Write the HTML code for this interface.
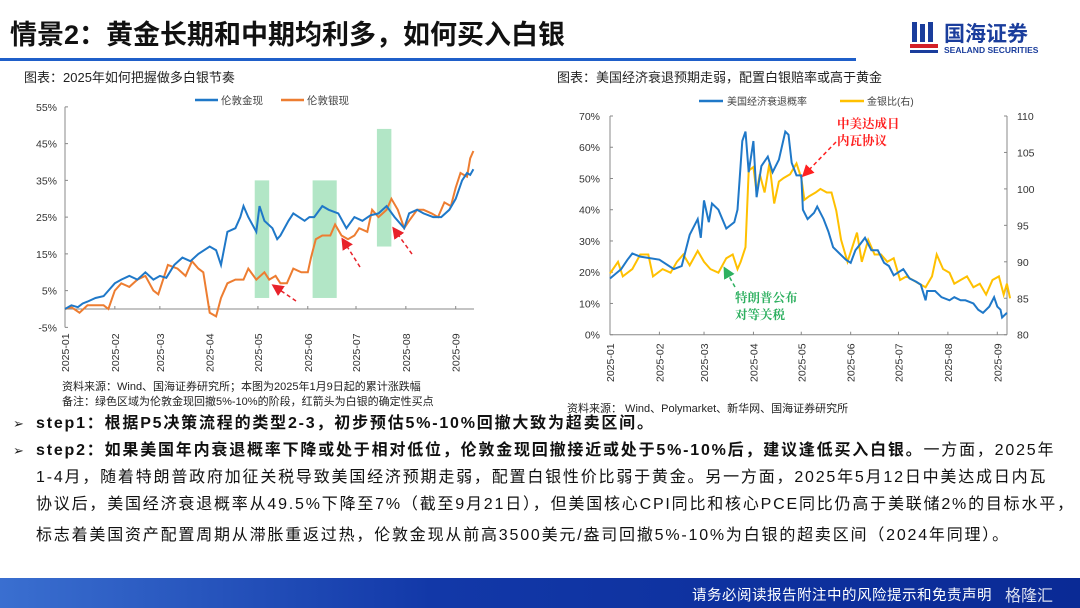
<!DOCTYPE html>
<html><head><meta charset="utf-8">
<style>
body{margin:0;width:1080px;height:608px;overflow:hidden;background:#fff;font-family:"Liberation Sans","Noto Sans CJK SC",sans-serif;position:relative}
.abs{position:absolute;white-space:nowrap}
.ln{position:absolute;left:36px;font-size:16px;color:#111;white-space:nowrap;line-height:20px;letter-spacing:1.8px}
.bul{position:absolute;left:13px;font-size:13px;color:#222}
</style></head><body>
<div class="abs" style="left:10px;top:13px;font-size:27px;font-weight:bold;color:#111">情景2：黄金长期和中期均利多，如何买入白银</div>
<div class="abs" style="left:0;top:58px;width:856px;height:3px;background:#1f5fc9"></div>
<div class="abs" style="left:910px;top:18px;width:150px;height:42px">
 <svg width="30" height="36" style="position:absolute;left:0;top:2px"><rect x="2" y="2" width="5" height="20" fill="#1a3d9c"/><rect x="10" y="4" width="5" height="18" fill="#1a3d9c"/><rect x="18" y="2" width="5" height="20" fill="#1a3d9c"/><rect x="0" y="24" width="28" height="4" fill="#d42027"/><rect x="0" y="30" width="28" height="3" fill="#1a3d9c"/></svg>
 <div class="abs" style="left:34px;top:0;font-size:21px;font-weight:bold;color:#1a3d9c">国海证券</div>
 <div class="abs" style="left:34px;top:27px;font-size:8.5px;font-weight:bold;color:#1a3d9c">SEALAND SECURITIES</div>
</div>

<div class="abs" style="left:24px;top:67px;font-size:13px;color:#222">图表：2025年如何把握做多白银节奏</div>
<div class="abs" style="left:557px;top:67px;font-size:13px;color:#222">图表：美国经济衰退预期走弱，配置白银赔率或高于黄金</div>

<svg id="left" class="abs" style="left:0;top:0" width="540" height="410"></svg>
<svg id="right" class="abs" style="left:540px;top:0" width="540" height="420"></svg>

<div class="abs" style="left:62px;top:380px;font-size:11px;color:#222;line-height:15px">资料来源：Wind、国海证券研究所；本图为2025年1月9日起的累计涨跌幅<br>备注：绿色区域为伦敦金现回撤5%-10%的阶段，红箭头为白银的确定性买点</div>
<div class="abs" style="left:567px;top:400px;font-size:11px;color:#222">资料来源：&nbsp;Wind、Polymarket、新华网、国海证券研究所</div>

<div class="bul" style="top:416px">➢</div>
<div class="ln" style="top:414px;font-weight:bold">step1：根据P5决策流程的类型2-3，初步预估5%-10%回撤大致为超卖区间。</div>
<div class="bul" style="top:443px">➢</div>
<div class="ln" style="top:441px"><b>step2：如果美国年内衰退概率下降或处于相对低位，伦敦金现回撤接近或处于5%-10%后，建议逢低买入白银。</b>一方面，2025年</div>
<div class="ln" style="top:468px">1-4月，随着特朗普政府加征关税导致美国经济预期走弱，配置白银性价比弱于黄金。另一方面，2025年5月12日中美达成日内瓦</div>
<div class="ln" style="top:495px">协议后，美国经济衰退概率从49.5%下降至7%（截至9月21日），但美国核心CPI同比和核心PCE同比仍高于美联储2%的目标水平，</div>
<div class="ln" style="top:526px">标志着美国资产配置周期从滞胀重返过热，伦敦金现从前高3500美元/盎司回撤5%-10%为白银的超卖区间（2024年同理）。</div>

<div class="abs" style="left:0;top:578px;width:1080px;height:30px;background:linear-gradient(90deg,#3a6fd0,#1238a8 40%,#0a2a95)"></div>
<div class="abs" style="left:692px;top:584px;font-size:14.5px;color:#fff;letter-spacing:0.5px">请务必阅读报告附注中的风险提示和免责声明</div>
<div class="abs" style="left:1005px;top:582px;font-size:16px;color:#fff;opacity:.85">格隆汇</div>

<script>
const NS="http://www.w3.org/2000/svg";
const MS=[0,31,59,90,120,151,181,212,243];
function doy(s){const [m,d]=s.split("-").map(Number);return MS[m-1]+d-1;}
function mk(p,t,a){const e=document.createElementNS(NS,t);for(const k in a)e.setAttribute(k,a[k]);p.appendChild(e);return e;}

/* ---------- LEFT CHART DATA ---------- */
const monthLabels=["2025-01","2025-02","2025-03","2025-04","2025-05","2025-06","2025-07","2025-08","2025-09"];
const leftYTicks=[-5,5,15,25,35,45,55];
const goldDates=["01-01","01-05","01-09","01-12","01-15","01-20","01-25","01-28","02-01","02-05","02-10","02-15","02-20","02-25","03-01","03-05","03-10","03-15","03-20","03-25","04-01","04-05","04-08","04-12","04-17","04-20","04-22","04-25","04-30","05-02","05-05","05-10","05-13","05-15","05-20","05-23","05-30","06-02","06-05","06-10","06-14","06-20","06-25","06-30","07-05","07-10","07-15","07-20","07-25","07-31","08-03","08-08","08-12","08-18","08-23","08-28","09-01","09-05","09-08","09-10","09-12"];
const goldVals=[0,1,0.5,1.5,2,3,3.5,5,7,8,9,8,10,8,9,8.5,12,14,13,15,17,16,12,21,22,25,28,25,21,28,24,22,19,20,24,26,24,25,25,28,27,26,22,25,24,25.5,26,28,25,22,26,27,26,25,25,27,30,35,37,36.5,38];
const silverDates=["01-01","01-05","01-10","01-15","01-20","01-25","01-28","02-01","02-05","02-10","02-15","02-20","02-25","02-28","03-03","03-06","03-12","03-17","03-21","03-25","03-28","04-01","04-05","04-08","04-12","04-17","04-22","04-25","04-30","05-05","05-08","05-12","05-15","05-19","05-23","05-28","06-01","06-03","06-06","06-10","06-15","06-18","06-22","06-26","06-30","07-03","07-08","07-11","07-15","07-20","07-23","07-27","07-31","08-03","08-08","08-12","08-17","08-21","08-25","08-29","09-01","09-04","09-08","09-10","09-12"];
const silverVals=[0,0.5,-1,1,1,1,0,5,7,6,8,9,5,4,8,12,11,9,13,11,10,-1,-2,3,7,8,8,11,8,10,8,9,7,7,11,10,10,14,19,20,20,23,20,19,20,22,21,27,25,27,30,27,22,24,27,27,26,25,29,28,33,37,36,41,43];
const bandStart=["04-29","06-04","07-14"];
const bandEnd=["05-08","06-19","07-23"];
const bandLow=[3,3,17];
const bandHigh=[35,35,49];

(function(){
 const svg=document.getElementById("left");
 const x0=65,pxd=(455.7-65)/243;
 const X=d=>x0+doy(d)*pxd;
 const Y=v=>309-v*3.675;
 for(let i=0;i<bandStart.length;i++){
  const r=mk(svg,"rect",{x:X(bandStart[i]),y:Y(bandHigh[i]),width:X(bandEnd[i])-X(bandStart[i]),height:Y(bandLow[i])-Y(bandHigh[i]),fill:"#7fd6a0","fill-opacity":0.6});
  
  
 }
 mk(svg,"line",{x1:x0,y1:Y(55),x2:x0,y2:Y(-5),stroke:"#888"});
 mk(svg,"line",{x1:x0,y1:Y(0),x2:474,y2:Y(0),stroke:"#888"});
 leftYTicks.forEach(v=>{
  mk(svg,"line",{x1:x0,y1:Y(v),x2:x0+3,y2:Y(v),stroke:"#888"});
  const t=mk(svg,"text",{x:x0-8,y:Y(v)+4,"text-anchor":"end","font-size":"10.5",fill:"#333"});t.textContent=v+"%";
  
  
 });
 monthLabels.forEach((m,i)=>{
  const x=x0+MS[i]*pxd;
  mk(svg,"line",{x1:x,y1:Y(0),x2:x,y2:Y(0)-3,stroke:"#888"});
  const t=mk(svg,"text",{transform:`translate(${x+4},${372}) rotate(-90)`,"font-size":"10.5",fill:"#333"});t.textContent=m;
  
  
 });
 const pts=(ds,vs)=>ds.map((d,i)=>X(d).toFixed(1)+","+Y(vs[i]).toFixed(1)).join(" ");
 const s=mk(svg,"polyline",{points:pts(silverDates,silverVals),fill:"none",stroke:"#ed7d31","stroke-width":2});
 
 
 const g=mk(svg,"polyline",{points:pts(goldDates,goldVals),fill:"none",stroke:"#1f78c8","stroke-width":2});
 
 
 mk(svg,"line",{x1:195,y1:100,x2:218,y2:100,stroke:"#1f78c8","stroke-width":2.5});
 let t=mk(svg,"text",{x:221,y:104,"font-size":"10.5",fill:"#444"});t.textContent="伦敦金现";
 
 mk(svg,"line",{x1:281,y1:100,x2:304,y2:100,stroke:"#ed7d31","stroke-width":2.5});
 t=mk(svg,"text",{x:307,y:104,"font-size":"10.5",fill:"#444"});t.textContent="伦敦银现";
 
 const defs=mk(svg,"defs",{});
 const mkr=mk(defs,"marker",{id:"ah",markerWidth:8,markerHeight:8,refX:6,refY:4,orient:"auto"});
 mk(mkr,"path",{d:"M0,0 L8,4 L0,8 z",fill:"#e8222a"});
 [[296,301,274,286],[360,267,343,240],[412,254,394,229]].forEach(a=>{
  const l=mk(svg,"line",{x1:a[0],y1:a[1],x2:a[2],y2:a[3],stroke:"#e8222a","stroke-width":1.5,"stroke-dasharray":"4,3","marker-end":"url(#ah)"});
  
  
 });
})();

/* ---------- RIGHT CHART DATA ---------- */
const leftTicksR=[0,10,20,30,40,50,60,70];
const rightTicksR=[80,85,90,95,100,105,110];
const recDates=["01-01","01-08","01-12","01-15","01-20","02-01","02-10","02-15","02-20","02-25","02-27","03-01","03-04","03-06","03-10","03-15","03-20","03-22","03-25","03-27","03-29","04-01","04-03","04-06","04-10","04-13","04-17","04-21","04-23","04-25","04-28","05-01","05-02","05-05","05-09","05-11","05-15","05-18","05-21","05-25","05-29","06-01","06-04","06-07","06-10","06-14","06-18","06-22","06-25","06-28","07-04","07-08","07-12","07-15","07-18","07-19","07-24","07-28","08-02","08-05","08-09","08-12","08-17","08-20","08-23","08-27","08-30","09-01","09-03","09-04","09-07"];
const recVals=[18,21,24,26,25,24,21,22,32,37,31,43,36,42,40,34,36,40,62,65,52,62,44,54,57,52,56,65,64,55,51,51,40,37,39,41,37,33,28,26,24,23,27,29,31,27,27,23,22,19,21,18,17,16,11,14,14,12,11,12,11,11,10,8,7,9,12,9,8,5.5,7];
const ratioDates=["01-01","01-06","01-09","01-15","01-20","01-25","01-28","02-03","02-08","02-12","02-16","02-20","02-25","03-01","03-05","03-10","03-15","03-19","03-22","03-24","03-27","03-29","04-01","04-03","04-05","04-08","04-11","04-14","04-17","04-20","04-24","04-28","05-01","05-03","05-06","05-10","05-13","05-17","05-20","05-23","05-26","05-30","06-02","06-05","06-08","06-12","06-16","06-20","06-24","06-28","07-02","07-06","07-10","07-14","07-18","07-22","07-25","07-29","08-02","08-05","08-09","08-13","08-17","08-21","08-25","08-29","09-02","09-05","09-07","09-09"];
const ratioVals=[88.4,90,88,89,91,91,88,89,88.5,90,91,89.5,91.5,90,89,88.5,90.5,91,89,90,92,102.5,103,99.5,102,99.5,103.5,98,101,101.5,102,103.5,101.5,98.5,99,99.5,100,99.5,99.5,97,93,90,92,94,90,93,91,91,90,90.5,87.5,88,87.5,87,86.5,88,91,89,88.5,87,87.5,88,86.5,87,85.5,87.5,88,85.5,87,85];

(function(){
 const svg=document.getElementById("right");
 const ox=-540;
 const x0=610+ox,pxd=(997.3-610)/243;
 const X=d=>x0+doy(d)*pxd;
 const Y=v=>334.7-v*(218.7/70);
 const Y2=v=>334.7-(v-80)*(218.7/30);
 const xr=1007+ox;
 mk(svg,"line",{x1:x0,y1:Y(70),x2:x0,y2:Y(0),stroke:"#888"});
 mk(svg,"line",{x1:xr,y1:Y(70),x2:xr,y2:Y(0),stroke:"#888"});
 mk(svg,"line",{x1:x0,y1:Y(0),x2:xr,y2:Y(0),stroke:"#888"});
 leftTicksR.forEach(v=>{
  mk(svg,"line",{x1:x0,y1:Y(v),x2:x0+3,y2:Y(v),stroke:"#888"});
  const t=mk(svg,"text",{x:x0-10,y:Y(v)+4,"text-anchor":"end","font-size":"10.5",fill:"#333"});t.textContent=v+"%";
  
  
 });
 rightTicksR.forEach(v=>{
  mk(svg,"line",{x1:xr,y1:Y2(v),x2:xr-3,y2:Y2(v),stroke:"#888"});
  const t=mk(svg,"text",{x:xr+10,y:Y2(v)+4,"font-size":"10.5",fill:"#333"});t.textContent=v;
  
  
 });
 monthLabels.forEach((m,i)=>{
  const x=x0+MS[i]*pxd;
  mk(svg,"line",{x1:x,y1:Y(0),x2:x,y2:Y(0)-3,stroke:"#888"});
  const t=mk(svg,"text",{transform:`translate(${x+4},${382}) rotate(-90)`,"font-size":"10.5",fill:"#333"});t.textContent=m;
  
  
 });
 const r=mk(svg,"polyline",{points:ratioDates.map((d,i)=>X(d).toFixed(1)+","+Y2(ratioVals[i]).toFixed(1)).join(" "),fill:"none",stroke:"#ffc000","stroke-width":2});
 
 
 const b=mk(svg,"polyline",{points:recDates.map((d,i)=>X(d).toFixed(1)+","+Y(recVals[i]).toFixed(1)).join(" "),fill:"none",stroke:"#1f78c8","stroke-width":2});
 
 
 mk(svg,"line",{x1:699+ox,y1:101,x2:723+ox,y2:101,stroke:"#1f78c8","stroke-width":2.5});
 let t=mk(svg,"text",{x:727+ox,y:105,"font-size":"10",fill:"#444"});t.textContent="美国经济衰退概率";
 
 mk(svg,"line",{x1:840+ox,y1:101,x2:864+ox,y2:101,stroke:"#ffc000","stroke-width":2.5});
 t=mk(svg,"text",{x:867+ox,y:105,"font-size":"10",fill:"#444"});t.textContent="金银比(右)";
 
 const defs=mk(svg,"defs",{});
 const m1=mk(defs,"marker",{id:"ar",markerWidth:8,markerHeight:8,refX:6,refY:4,orient:"auto"});
 mk(m1,"path",{d:"M0,0 L8,4 L0,8 z",fill:"#ff2020"});
 const m2=mk(defs,"marker",{id:"ag",markerWidth:8,markerHeight:8,refX:6,refY:4,orient:"auto"});
 mk(m2,"path",{d:"M0,0 L8,4 L0,8 z",fill:"#2eb060"});
 let a=mk(svg,"line",{x1:836+ox,y1:142,x2:804+ox,y2:175,stroke:"#ff2020","stroke-width":1.5,"stroke-dasharray":"4,3","marker-end":"url(#ar)"});
 
 a=mk(svg,"line",{x1:735+ox,y1:287,x2:725+ox,y2:269,stroke:"#2eb060","stroke-width":1.5,"stroke-dasharray":"4,3","marker-end":"url(#ag)"});
 
 [["中美达成日",837,128,"#ff2020"],["内瓦协议",837,145,"#ff2020"],["特朗普公布",735,302,"#2eb060"],["对等关税",735,319,"#2eb060"]].forEach(q=>{
  const tt=mk(svg,"text",{x:q[1]+ox,y:q[2],"font-size":"12.5","font-weight":"bold",fill:q[3],"font-family":"'Noto Serif CJK SC','Liberation Serif',serif"});tt.textContent=q[0];
  
  
 });
})();
</script>
</body></html>
